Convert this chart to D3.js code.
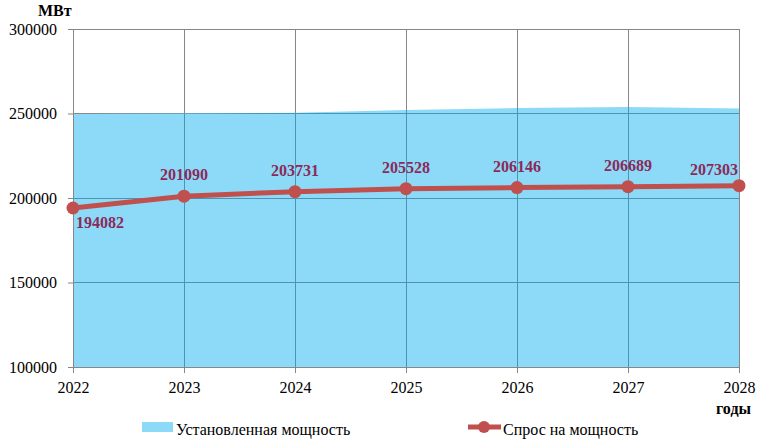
<!DOCTYPE html>
<html><head><meta charset="utf-8">
<script src="https://cdn.jsdelivr.net/npm/d3@7/dist/d3.min.js"></script>
<style>body{margin:0;background:#fff}svg{display:block}</style>
</head><body><svg id="c" width="760" height="440"></svg>
<script>
const years = [2022, 2023, 2024, 2025, 2026, 2027, 2028];
const installed = [249700, 250000, 250500, 252000, 253200, 253800, 253000];
const demand = [194082, 201090, 203731, 205528, 206146, 206689, 207303];
const yTicks = [100000, 150000, 200000, 250000, 300000];
const seriesNames = ["Установленная мощность", "Спрос на мощность"];
const yUnit = "МВт", xUnit = "годы";
const FONT = "Times New Roman, Liberation Serif, serif";

const svg = d3.select("#c");
const m = {l: 73, r: 739, t: 29, b: 367};
const x = d3.scaleLinear().domain([years[0], years[years.length-1]]).range([m.l, m.r]);
const y = d3.scaleLinear().domain([100000, 300000]).range([m.b, m.t]);
const areaCol = "#8CDAF7", lineCol = "#C0504D", labCol = "#8B2A5A";

function drawGrid(g, col) {
  g.selectAll(".h").data(yTicks).enter().append("line")
    .attr("x1", m.l).attr("x2", m.r).attr("y1", d => y(d)).attr("y2", d => y(d))
    .attr("stroke", col).attr("stroke-width", 1).attr("shape-rendering", "crispEdges");
  g.selectAll(".v").data(years).enter().append("line")
    .attr("x1", d => x(d)).attr("x2", d => x(d)).attr("y1", m.t).attr("y2", m.b)
    .attr("stroke", col).attr("stroke-width", 1).attr("shape-rendering", "crispEdges");
}
drawGrid(svg.append("g"), "#878787");

const area = d3.area().x((d, i) => x(years[i])).y0(y(100000)).y1(d => y(d));
svg.append("path").datum(installed).attr("d", area).attr("fill", areaCol);
svg.append("clipPath").attr("id", "ac").append("path").datum(installed).attr("d", area);
drawGrid(svg.append("g").attr("clip-path", "url(#ac)"), "#4A94B4");

const ya = svg.append("g").attr("transform", `translate(${m.l},0)`)
  .call(d3.axisLeft(y).tickValues(yTicks).tickFormat(d3.format("d")).tickSize(5).tickPadding(11));
const xa = svg.append("g").attr("transform", `translate(0,${m.b})`)
  .call(d3.axisBottom(x).tickValues(years).tickFormat(d3.format("d")).tickSize(6).tickPadding(9));
[ya, xa].forEach(a => {
  a.select(".domain").attr("stroke", "#878787");
  a.selectAll(".tick line").attr("stroke", "#878787");
  a.selectAll("text").attr("fill", "#000").attr("font-family", FONT).attr("font-size", 16);
});

const line = d3.line().x((d, i) => x(years[i])).y(d => y(d));
svg.append("path").datum(demand).attr("d", line).attr("fill", "none")
  .attr("stroke", lineCol).attr("stroke-width", 5);
svg.selectAll(".pt").data(demand).enter().append("circle")
  .attr("cx", (d, i) => x(years[i])).attr("cy", d => y(d)).attr("r", 6.5).attr("fill", lineCol);

const tg = svg.append("g");
tg.selectAll(".lab").data(demand).enter().append("text")
  .attr("x", (d, i) => i === 0 ? x(years[i]) + 3 : i === demand.length - 1 ? x(years[i]) - 1 : x(years[i]))
  .attr("y", (d, i) => i === 0 ? y(d) + 20 : i === demand.length - 1 ? y(d) - 11 : y(d) - 16)
  .attr("text-anchor", (d, i) => i === 0 ? "start" : i === demand.length - 1 ? "end" : "middle")
  .attr("font-family", FONT).attr("font-size", 16).attr("font-weight", "bold").attr("fill", labCol)
  .text(d => d);

tg.append("text").attr("x", 38).attr("y", 16).attr("font-family", FONT).attr("font-size", 16).attr("font-weight", "bold").text(yUnit);
tg.append("text").attr("x", 716).attr("y", 414).attr("font-family", FONT).attr("font-size", 16).attr("font-weight", "bold").text(xUnit);

tg.append("rect").attr("x", 142).attr("y", 422).attr("width", 31).attr("height", 10).attr("fill", areaCol);
tg.append("text").attr("x", 176).attr("y", 435).attr("font-family", FONT).attr("font-size", 16).text(seriesNames[0]);
tg.append("line").attr("x1", 468).attr("x2", 501).attr("y1", 427).attr("y2", 427).attr("stroke", lineCol).attr("stroke-width", 5);
tg.append("circle").attr("cx", 484).attr("cy", 427).attr("r", 6).attr("fill", lineCol);
tg.append("text").attr("x", 503).attr("y", 435).attr("font-family", FONT).attr("font-size", 16).text(seriesNames[1]);
</script></body></html>
